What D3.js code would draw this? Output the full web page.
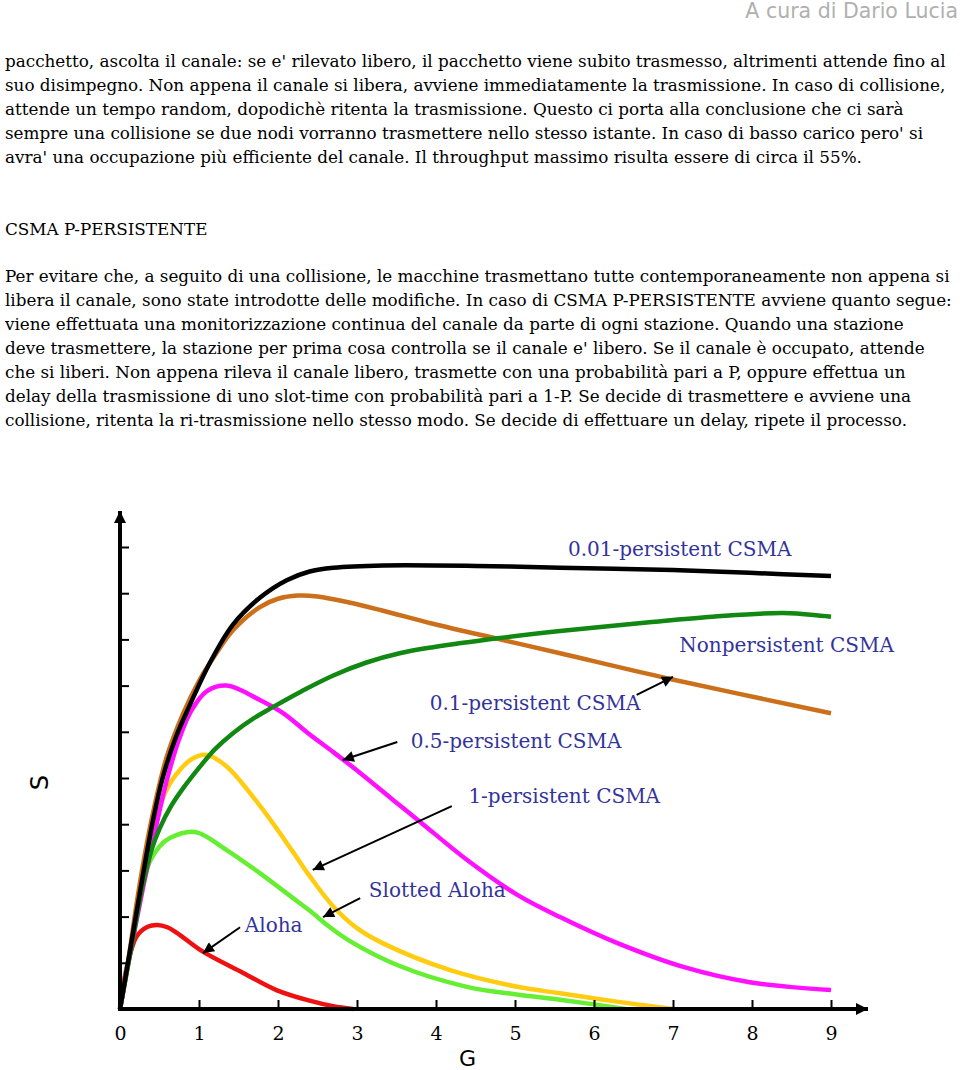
<!DOCTYPE html>
<html>
<head>
<meta charset="utf-8">
<script src="https://cdn.jsdelivr.net/npm/d3@7"></script>
<style>
  body { margin: 0; background: white; }
  .body-text { font-family: "DejaVu Serif", serif; font-size: 16.8px; fill: #000; }
  .label { font-family: "DejaVu Serif", serif; font-size: 20px; fill: #33339a; }
  .tick text { font-family: "DejaVu Serif", serif; font-size: 19px; fill: #000; }
</style>
</head>
<body>
<svg width="960" height="1070"></svg>
<script>
// text of the page, one entry per printed line
let para1 = [
    "pacchetto, ascolta il canale: se e' rilevato libero, il pacchetto viene subito trasmesso, altrimenti attende fino al",
    "suo disimpegno. Non appena il canale si libera, avviene immediatamente la trasmissione. In caso di collisione,",
    "attende un tempo random, dopodichè ritenta la trasmissione. Questo ci porta alla conclusione che ci sarà",
    "sempre una collisione se due nodi vorranno trasmettere nello stesso istante. In caso di basso carico pero' si",
    "avra' una occupazione più efficiente del canale. Il throughput massimo risulta essere di circa il 55%."
];
let heading = "CSMA P-PERSISTENTE";
let para2 = [
    "Per evitare che, a seguito di una collisione, le macchine trasmettano tutte contemporaneamente non appena si",
    "libera il canale, sono state introdotte delle modifiche. In caso di CSMA P-PERSISTENTE avviene quanto segue:",
    "viene effettuata una monitorizzazione continua del canale da parte di ogni stazione. Quando una stazione",
    "deve trasmettere, la stazione per prima cosa controlla se il canale e' libero. Se il canale è occupato, attende",
    "che si liberi. Non appena rileva il canale libero, trasmette con una probabilità pari a P, oppure effettua un",
    "delay della trasmissione di uno slot-time con probabilità pari a 1-P. Se decide di trasmettere e avviene una",
    "collisione, ritenta la ri-trasmissione nello stesso modo. Se decide di effettuare un delay, ripete il processo."
];

// chart data: G (offered load) vs S (throughput)
let xTicks = [0, 1, 2, 3, 4, 5, 6, 7, 8, 9];
let yTicks = [0.1, 0.2, 0.3, 0.4, 0.5, 0.6, 0.7, 0.8, 0.9, 1.0];

let gAloha = [0, 0.05, 0.1, 0.21, 0.35, 0.47, 0.6, 0.72, 1.05, 1.56, 1.98, 2.4, 2.7, 2.95];
let sAloha = [0, 0.06, 0.1, 0.157, 0.178, 0.182, 0.177, 0.165, 0.124, 0.078, 0.041, 0.018, 0.006, 0];

let gSlotted = [0, 0.1, 0.2, 0.29, 0.38, 0.5, 0.63, 0.95, 1.35, 1.77, 2.19, 2.4, 2.65, 2.91, 3.54, 4.39, 5.0, 5.57, 6.0, 6.4];
let sSlotted = [0, 0.1, 0.19, 0.27, 0.32, 0.352, 0.37, 0.383, 0.344, 0.294, 0.24, 0.213, 0.178, 0.147, 0.093, 0.048, 0.032, 0.02, 0.01, 0];

let gP1 = [0, 0.15, 0.3, 0.42, 0.55, 0.7, 0.9, 1.1, 1.35, 1.77, 2.19, 2.4, 2.7, 3.0, 3.33, 4.18, 5.03, 5.57, 6.29, 7.0];
let sP1 = [0, 0.145, 0.29, 0.39, 0.46, 0.505, 0.54, 0.55, 0.525, 0.44, 0.34, 0.288, 0.222, 0.175, 0.142, 0.084, 0.048, 0.034, 0.016, 0];

let gP05 = [0, 0.15, 0.3, 0.45, 0.6, 0.75, 0.9, 1.1, 1.35, 1.77, 2.06, 2.41, 2.7, 3.04, 3.46, 3.8, 4.39, 5.03, 5.57, 6.29, 7.13, 7.97, 9.0];
let sP05 = [0, 0.14, 0.27, 0.39, 0.50, 0.585, 0.645, 0.688, 0.70, 0.669, 0.641, 0.593, 0.556, 0.511, 0.452, 0.405, 0.323, 0.247, 0.199, 0.143, 0.091, 0.058, 0.041];

let gNonp = [0, 0.15, 0.29, 0.4, 0.5, 0.65, 0.8, 1.01, 1.2, 1.43, 1.7, 1.94, 2.3, 2.7, 3.12, 3.54, 3.96, 4.81, 5.57, 6.7, 7.5, 8.4, 9.0];
let sNonp = [0, 0.14, 0.27, 0.345, 0.39, 0.44, 0.478, 0.524, 0.562, 0.597, 0.63, 0.654, 0.688, 0.722, 0.75, 0.77, 0.783, 0.803, 0.818, 0.837, 0.849, 0.857, 0.849];

let gP01 = [0, 0.1, 0.23, 0.4, 0.59, 0.8, 1.0, 1.2, 1.43, 1.77, 2.0, 2.25, 2.5, 2.9, 3.33, 3.96, 4.81, 5.57, 6.92, 9.0];
let sP01 = [0, 0.1, 0.25, 0.41, 0.545, 0.64, 0.71, 0.765, 0.82, 0.87, 0.888, 0.895, 0.893, 0.88, 0.862, 0.834, 0.80, 0.77, 0.716, 0.64];

let gP001 = [0, 0.1, 0.29, 0.42, 0.54, 0.7, 0.85, 1.14, 1.43, 1.77, 2.11, 2.4, 2.7, 3.33, 4.5, 5.57, 7.0, 7.97, 9.0];
let sP001 = [0, 0.1, 0.29, 0.41, 0.50, 0.585, 0.645, 0.75, 0.832, 0.89, 0.928, 0.947, 0.955, 0.96, 0.959, 0.955, 0.95, 0.944, 0.937];

// drawn back to front
let series = [
    {g: gAloha, s: sAloha, color: '#ee1111'},
    {g: gSlotted, s: sSlotted, color: '#66ee33'},
    {g: gP1, s: sP1, color: '#ffcc11'},
    {g: gP05, s: sP05, color: '#ff11ff'},
    {g: gP01, s: sP01, color: '#cc6f1a'},
    {g: gNonp, s: sNonp, color: '#118811'},
    {g: gP001, s: sP001, color: '#000000'}
];

// labels and arrows in data units: [G, S]
let labels = [
    {text: "0.01-persistent CSMA", at: [5.67, 0.981]},
    {text: "Nonpersistent CSMA", at: [7.08, 0.773]},
    {text: "0.1-persistent CSMA", at: [3.92, 0.647]},
    {text: "0.5-persistent CSMA", at: [3.68, 0.565]},
    {text: "1-persistent CSMA", at: [4.41, 0.446]},
    {text: "Slotted Aloha", at: [3.15, 0.242]},
    {text: "Aloha", at: [1.58, 0.167]}
];
let arrows = [
    {from: [6.54, 0.68], to: [7.0, 0.719]},
    {from: [3.51, 0.578], to: [2.82, 0.539]},
    {from: [4.2, 0.439], to: [2.44, 0.301]},
    {from: [3.04, 0.24], to: [2.57, 0.199]},
    {from: [1.52, 0.177], to: [1.05, 0.121]}
];

var svg = d3.select('svg');

// page text
svg.append('text')
    .attr('x', 958).attr('y', 18)
    .attr('text-anchor', 'end')
    .style('font-family', '"DejaVu Sans", sans-serif')
    .style('font-size', '20.5px')
    .style('fill', '#b0b0b0')
    .text("A cura di Dario Lucia");

svg.selectAll('text.p1')
    .data(para1)
    .enter()
    .append('text')
    .attr('class', 'body-text p1')
    .attr('x', 5)
    .attr('y', (d, i) => 67 + i * 24)
    .text(d => d);

svg.append('text')
    .attr('class', 'body-text')
    .attr('x', 5).attr('y', 235)
    .text(heading);

svg.selectAll('text.p2')
    .data(para2)
    .enter()
    .append('text')
    .attr('class', 'body-text p2')
    .attr('x', 5)
    .attr('y', (d, i) => 282 + i * 24)
    .text(d => d);

// chart
let x = d3.scaleLinear().domain([0, 9]).range([120, 831]);
let y = d3.scaleLinear().domain([0, 1]).range([1009, 547]);

let defs = svg.append('defs');
defs.append('marker')
    .attr('id', 'axisHead')
    .attr('viewBox', '0 0 10 10')
    .attr('refX', 10).attr('refY', 5)
    .attr('markerWidth', 3.6).attr('markerHeight', 3)
    .attr('markerUnits', 'strokeWidth')
    .attr('orient', 'auto')
    .append('path')
    .attr('d', 'M0,0 L10,5 L0,10 z')
    .attr('fill', 'black');
defs.append('marker')
    .attr('id', 'head')
    .attr('viewBox', '0 0 10 10')
    .attr('refX', 10).attr('refY', 5)
    .attr('markerWidth', 7).attr('markerHeight', 5.5)
    .attr('markerUnits', 'strokeWidth')
    .attr('orient', 'auto')
    .append('path')
    .attr('d', 'M0,0 L10,5 L0,10 z')
    .attr('fill', 'black');

let line = d3.line()
    .x(d => x(d[0]))
    .y(d => y(d[1]))
    .curve(d3.curveCatmullRom.alpha(0.5));

svg.selectAll('path.curve')
    .data(series)
    .enter()
    .append('path')
    .attr('class', 'curve')
    .attr('fill', 'none')
    .attr('stroke', d => d.color)
    .attr('stroke-width', 4.5)
    .attr('stroke-linecap', 'butt')
    .attr('d', d => line(d.g.map((g, i) => [g, d.s[i]])));

// axes
let xAxis = svg.append('g')
    .attr('transform', `translate(0, ${y(0)})`)
    .call(d3.axisBottom(x).tickValues(xTicks).tickSize(-9).tickPadding(18).tickFormat(d3.format('d')));
xAxis.select('.domain').remove();
xAxis.selectAll('.tick line').attr('stroke-width', 2);

let yAxis = svg.append('g')
    .attr('transform', `translate(${x(0)}, 0)`)
    .call(d3.axisLeft(y).tickValues(yTicks).tickSize(-9).tickFormat(''));
yAxis.select('.domain').remove();
yAxis.selectAll('.tick line').attr('stroke-width', 2);

svg.append('line')
    .attr('x1', x(0) - 2).attr('y1', y(0))
    .attr('x2', 868).attr('y2', y(0))
    .attr('stroke', 'black').attr('stroke-width', 4)
    .attr('marker-end', 'url(#axisHead)');
svg.append('line')
    .attr('x1', x(0)).attr('y1', y(0) + 2)
    .attr('x2', x(0)).attr('y2', 511)
    .attr('stroke', 'black').attr('stroke-width', 4)
    .attr('marker-end', 'url(#axisHead)');

svg.append('text')
    .attr('transform', `translate(48, ${y(0.49)}) rotate(-90)`)
    .attr('text-anchor', 'middle')
    .style('font-family', '"DejaVu Sans", sans-serif')
    .style('font-size', '24px')
    .text('S');
svg.append('text')
    .attr('x', x(4.4)).attr('y', 1066)
    .attr('text-anchor', 'middle')
    .style('font-family', '"DejaVu Sans", sans-serif')
    .style('font-size', '22px')
    .text('G');

// annotations
svg.selectAll('text.label')
    .data(labels)
    .enter()
    .append('text')
    .attr('class', 'label')
    .attr('x', d => x(d.at[0]))
    .attr('y', d => y(d.at[1]))
    .text(d => d.text);

svg.selectAll('line.arrow')
    .data(arrows)
    .enter()
    .append('line')
    .attr('class', 'arrow')
    .attr('x1', d => x(d.from[0])).attr('y1', d => y(d.from[1]))
    .attr('x2', d => x(d.to[0])).attr('y2', d => y(d.to[1]))
    .attr('stroke', 'black')
    .attr('stroke-width', 2)
    .attr('marker-end', 'url(#head)');
</script>
</body>
</html>
